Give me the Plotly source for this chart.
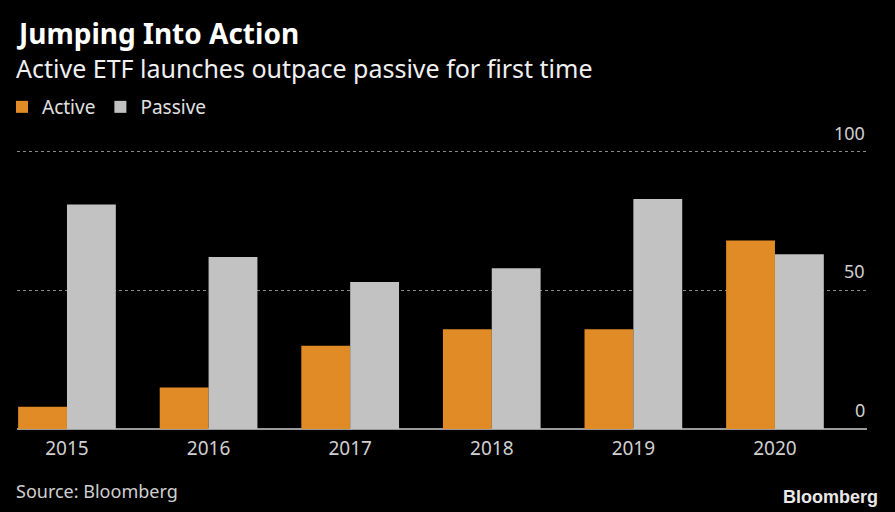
import plotly.graph_objects as go

years = ["2015", "2016", "2017", "2018", "2019", "2020"]
active = [8, 15, 30, 36, 36, 68]
passive = [81, 62, 53, 58, 83, 63]
y_ticks = [0, 50, 100]

W, H = 895, 512
L, R, T, B = 17, 28, 149, 83
pw, ph = W - L - R, H - T - B

def px_x(x):
    return (x - L) / pw

def px_y(y):
    return (H - B - y) / ph

FONT = "Noto Sans"
ORANGE = "#E08B26"
GREY = "#C2C2C2"
TXT = "#d0d0d0"

fig = go.Figure()
fig.add_trace(go.Bar(x=years, y=active, name="Active", marker=dict(color=ORANGE, line=dict(width=0))))
fig.add_trace(go.Bar(x=years, y=passive, name="Passive", marker=dict(color=GREY, line=dict(width=0))))

annotations = [
    dict(text="<b>Jumping Into Action</b>", xref="paper", yref="paper", x=px_x(14), y=px_y(33),
         xanchor="left", yanchor="middle", showarrow=False,
         font=dict(family=FONT, size=28, color="#ffffff")),
    dict(text="Active ETF launches outpace passive for first time", xref="paper", yref="paper",
         x=px_x(14), y=px_y(68), xanchor="left", yanchor="middle", showarrow=False,
         font=dict(family=FONT, size=25, color="#f0f0f0")),
    dict(text="Source: Bloomberg", xref="paper", yref="paper", x=px_x(14), y=px_y(491),
         xanchor="left", yanchor="middle", showarrow=False,
         font=dict(family=FONT, size=18, color=TXT)),
    dict(text="<b>Bloomberg</b>", xref="paper", yref="paper", x=px_x(880), y=px_y(497),
         xanchor="right", yanchor="middle", showarrow=False,
         font=dict(family="Liberation Sans", size=18, color="#e8e8e8")),
]
for v in y_ticks:
    annotations.append(dict(text=str(v), xref="paper", yref="y", x=1.0, y=v, yshift=19,
                            xanchor="right", yanchor="middle", showarrow=False,
                            font=dict(family=FONT, size=18, color=TXT)))

fig.update_layout(
    width=W, height=H,
    margin=dict(l=L, r=R, t=T, b=B, pad=0, autoexpand=False),
    paper_bgcolor="#000000", plot_bgcolor="#000000",
    barmode="group", bargap=0.31, bargroupgap=0,
    font=dict(family=FONT, color=TXT, size=17),
    showlegend=True,
    legend=dict(orientation="h", xref="container", yref="container",
                x=2 / W, y=1 - 107 / H, xanchor="left", yanchor="middle",
                font=dict(size=19, color="#e0e0e0"), bgcolor="rgba(0,0,0,0)",
                itemwidth=30, tracegroupgap=0),
    xaxis=dict(range=[-0.353, 5.65], showgrid=False, zeroline=False, showline=False,
               ticks="", tickfont=dict(size=19, color=TXT), ticklabelstandoff=6,
               automargin=False, fixedrange=True),
    yaxis=dict(range=[0, 101], side="right", tickvals=y_ticks, showticklabels=False,
               showgrid=True, gridcolor="#8a8a8a", griddash="dot", gridwidth=1,
               zeroline=True, zerolinecolor="#9a9a9a", zerolinewidth=2,
               showline=False, ticks="", automargin=False, fixedrange=True),
    annotations=annotations,
)

fig.write_html("out.html", config={"displayModeBar": False},
               post_script="document.body.style.margin='0';document.body.style.background='#000';")
